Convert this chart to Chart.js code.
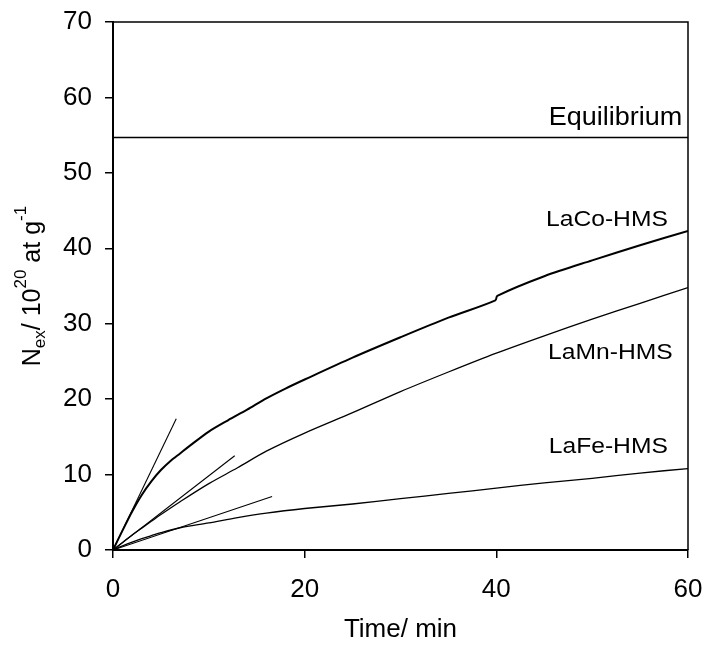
<!DOCTYPE html>
<html>
<head>
<meta charset="utf-8">
<script src="https://cdn.jsdelivr.net/npm/chart.js@4.4.0/dist/chart.umd.min.js"></script>
<style>
  html, body { margin: 0; padding: 0; background: #fff; }
</style>
</head>
<body>
<canvas id="chart" width="705" height="646"></canvas>
<script>
// Desorption kinetics, N_ex vs time

const FONT = '"Liberation Sans", Arial, sans-serif';

// ─── Data ───────────────────────────────────────────────────────────────────

const timeCo = [0, 1, 2, 3, 4, 5, 6, 7, 8, 10, 12, 14, 16, 18, 20, 25, 30, 35, 39.9, 40.1, 45, 50, 55, 60];
const nCo    = [0, 2.6, 5.1, 7.3, 9.1, 10.6, 11.8, 12.8, 13.8, 15.7, 17.2, 18.6, 20.1, 21.4, 22.6, 25.5, 28.2, 30.8, 33.1, 33.7, 36.3, 38.4, 40.4, 42.3];

const timeMn = [0, 1, 2, 3, 4, 5, 7, 10, 13, 16, 20, 25, 30, 35, 40, 45, 50, 55, 60];
const nMn    = [0, 1.0, 2.0, 2.9, 3.8, 4.7, 6.4, 8.8, 10.9, 13.1, 15.5, 18.2, 21.0, 23.6, 26.1, 28.4, 30.6, 32.7, 34.8];

const timeFe = [0, 1, 2, 3, 4, 5, 7, 10, 13, 16, 20, 25, 30, 35, 40, 45, 50, 55, 60];
const nFe    = [0, 0.55, 1.05, 1.5, 1.9, 2.3, 2.95, 3.6, 4.3, 4.9, 5.5, 6.1, 6.8, 7.5, 8.2, 8.9, 9.5, 10.2, 10.8];

// initial-slope tangents
const tanCoX = [0, 6.6],  tanCoY = [0, 17.4];
const tanMnX = [0, 12.7], tanMnY = [0, 12.5];
const tanFeX = [0, 16.6], tanFeY = [0, 7.1];

const eqX = [0, 60], eqY = [54.7, 54.7];

const xTicks = [0, 20, 40, 60];
const yTicks = [0, 10, 20, 30, 40, 50, 60, 70];

// text labels placed in data coordinates (right-aligned)
const labelText = ['Equilibrium', 'LaCo-HMS', 'LaMn-HMS', 'LaFe-HMS'];
const labelAtX  = [59.4, 57.9, 58.4, 57.9];
const labelAtY  = [57.3, 43.8, 26.1, 13.6];

// ─── Helpers ───────────────────────────────────────────────────────────────

function pts(xs, ys) {
    return xs.map((x, i) => ({ x: x, y: ys[i] }));
}

function line(xs, ys, width, tension) {
    return {
        data: pts(xs, ys),
        showLine: true,
        borderColor: '#000',
        borderWidth: width,
        pointRadius: 0,
        fill: false,
        tension: tension || 0
    };
}

// ─── Plugins ───────────────────────────────────────────────────────────────

const framePlugin = {
    id: 'frame',
    afterDatasetsDraw(chart) {
        const { ctx, chartArea: a } = chart;
        ctx.save();
        ctx.strokeStyle = '#000';
        ctx.lineWidth = 1.5;
        ctx.beginPath();
        ctx.moveTo(a.left, a.top);
        ctx.lineTo(a.right, a.top);
        ctx.lineTo(a.right, a.bottom);
        ctx.stroke();
        ctx.restore();
    }
};

const labelPlugin = {
    id: 'labels',
    afterDraw(chart) {
        const { ctx, scales: { x, y } } = chart;
        ctx.save();
        ctx.fillStyle = '#000';
        ctx.textAlign = 'right';
        ctx.textBaseline = 'middle';
        labelText.forEach((t, i) => {
            const px = x.getPixelForValue(labelAtX[i]);
            const py = y.getPixelForValue(labelAtY[i]);
            ctx.save();
            ctx.translate(px, py);
            ctx.scale(i === 0 ? 1.08 : 1.12, 1);
            ctx.font = (i === 0 ? '25px ' : '22px ') + FONT;
            ctx.fillText(t, 0, 0);
            ctx.restore();
        });
        ctx.restore();
    }
};

// y title with sub/superscripts: N_ex/ 10^20 at g^-1
const yTitlePlugin = {
    id: 'yTitle',
    afterDraw(chart) {
        const { ctx, chartArea: a } = chart;
        const big = '25px ' + FONT, small = '17px ' + FONT;
        const parts = [
            { t: 'N', f: big, dy: 0 },
            { t: 'ex', f: small, dy: 5 },
            { t: '/ 10', f: big, dy: 0 },
            { t: '20', f: small, dy: -14 },
            { t: ' at g', f: big, dy: 0 },
            { t: '-1', f: small, dy: -14 }
        ];
        ctx.save();
        let total = 0;
        parts.forEach(p => { ctx.font = p.f; p.w = ctx.measureText(p.t).width; total += p.w; });
        ctx.translate(40, (a.top + a.bottom) / 2);
        ctx.rotate(-Math.PI / 2);
        ctx.fillStyle = '#000';
        ctx.textAlign = 'left';
        ctx.textBaseline = 'alphabetic';
        let cx = -total / 2;
        parts.forEach(p => {
            ctx.font = p.f;
            ctx.fillText(p.t, cx, p.dy);
            cx += p.w;
        });
        ctx.restore();
    }
};

// ─── Chart ─────────────────────────────────────────────────────────────────

const tickFont = { family: FONT, size: 26 };

function noEdgePadding(s) {
    s.paddingTop = 0; s.paddingBottom = 0;
    s.paddingLeft = 0; s.paddingRight = 0;
}

new Chart(document.getElementById('chart').getContext('2d'), {
    type: 'scatter',
    data: {
        datasets: [
            line(eqX, eqY, 1.5),
            line(timeCo, nCo, 2, 0.3),
            line(timeMn, nMn, 1.3, 0.3),
            line(timeFe, nFe, 1.3, 0.3),
            line(tanCoX, tanCoY, 1.1),
            line(tanMnX, tanMnY, 1.1),
            line(tanFeX, tanFeY, 1.1)
        ]
    },
    options: {
        responsive: false,
        animation: false,
        layout: { padding: { top: 22, right: 17, left: 0, bottom: 0 } },
        plugins: {
            legend: { display: false },
            tooltip: { enabled: false }
        },
        scales: {
            x: {
                type: 'linear',
                min: 0, max: 60,
                afterBuildTicks: (s) => { s.ticks = xTicks.map(v => ({ value: v })); },
                afterFit: (s) => { s.height = 96; noEdgePadding(s); },
                ticks: { font: tickFont, color: '#000', padding: 16, maxRotation: 0 },
                grid: { drawOnChartArea: false, drawTicks: true, tickLength: 8, color: '#000', lineWidth: 1.5 },
                border: { color: '#000', width: 2 },
                title: {
                    display: true, text: 'Time/ min', color: '#000',
                    font: { family: FONT, size: 26 },
                    padding: { top: 0, bottom: 1 }
                }
            },
            y: {
                type: 'linear',
                min: 0, max: 70,
                afterBuildTicks: (s) => { s.ticks = yTicks.map(v => ({ value: v })); },
                afterFit: (s) => { s.width = 113; noEdgePadding(s); },
                ticks: { font: tickFont, color: '#000', padding: 13 },
                grid: { drawOnChartArea: false, drawTicks: true, tickLength: 8, color: '#000', lineWidth: 1.5 },
                border: { color: '#000', width: 2 }
            }
        }
    },
    plugins: [framePlugin, labelPlugin, yTitlePlugin]
});
</script>
</body>
</html>
